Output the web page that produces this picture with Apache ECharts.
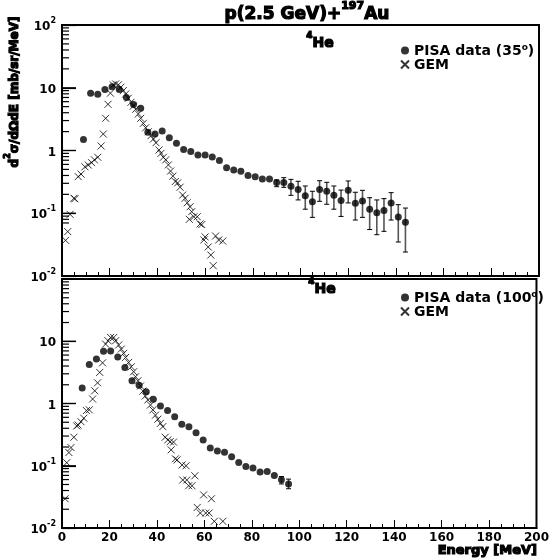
<!DOCTYPE html>
<html><head><meta charset="utf-8">
<script src="https://cdn.jsdelivr.net/npm/echarts@6/dist/echarts.min.js"></script>
<style>html,body{margin:0;padding:0;background:#fff}#c{width:552px;height:560px}</style>
</head><body><div id="c"></div>
<script>
const pisa35Energy = [9,12,15,18,21,24,27,30,33,36,39,42,45,48,51,54,57,60,63,66,69,72,75,78,81,84,87,90,93,96,99,102,105,108,111,114,117,120,123,126,129,132,135,138,141,144];
const pisa35Value  = [1.5,8.2,7.9,9.4,10.4,9.4,7.0,5.4,4.7,1.95,1.83,2.05,1.6,1.30,1.04,0.96,0.85,0.85,0.79,0.69,0.53,0.49,0.466,0.40,0.38,0.35,0.35,0.31,0.31,0.27,0.24,0.19,0.153,0.24,0.224,0.193,0.16,0.232,0.144,0.157,0.116,0.102,0.111,0.146,0.087,0.072];
const pisa35ErrLow = [null,null,null,null,null,null,null,null,null,null,null,null,null,null,null,null,null,null,null,null,null,null,null,null,null,null,null,0.265,0.259,0.193,0.163,0.116,0.086,0.155,0.139,0.116,0.089,0.146,0.078,0.086,0.055,0.0455,0.0515,0.078,0.0348,0.0241];
const pisa35ErrHigh= [null,null,null,null,null,null,null,null,null,null,null,null,null,null,null,null,null,null,null,null,null,null,null,null,null,null,null,0.339,0.369,0.347,0.323,0.272,0.224,0.33,0.311,0.272,0.234,0.327,0.216,0.232,0.177,0.163,0.171,0.213,0.137,0.121];
const gem35Energy = [1.5,2.4,3.4,5.0,5.4,6.8,8.0,9.6,11.0,12.4,13.6,15.0,16.4,17.3,18.3,19.3,20.3,21.5,22.5,23.6,24.7,25.7,26.7,27.8,28.9,29.9,30.9,32.0,33.0,34.1,35.1,36.2,37.3,38.3,39.4,40.7,41.5,42.5,43.5,44.6,45.5,46.5,47.5,48.5,49.5,50.6,51.6,52.5,53.4,53.7,54.4,55.3,56.7,57.9,58.6,59.5,60.0,61.3,62.4,63.4,64.4,65.7,67.4];
const gem35Value  = [0.037,0.051,0.096,0.173,0.170,0.383,0.42,0.55,0.587,0.64,0.71,0.78,1.18,1.83,3.26,5.45,8.2,11.1,11.5,11.1,10.2,9.0,7.94,6.8,5.86,5.1,4.54,3.82,3.26,2.71,2.3,1.99,1.72,1.52,1.33,1.02,0.90,0.78,0.71,0.59,0.47,0.39,0.32,0.305,0.26,0.195,0.173,0.147,0.080,0.127,0.106,0.088,0.088,0.0675,0.066,0.0375,0.042,0.029,0.0216,0.0146,0.0434,0.0375,0.036];
const pisa100Energy = [8.5,11.5,14.5,17.5,20.5,23.5,26.5,29.5,32.5,35.5,38.5,41.5,44.5,47.5,50.5,53.5,56.5,59.5,62.5,65.5,68.5,71.5,74.5,77.5,80.5,83.5,86.5,89.5,92.5,95.5];
const pisa100Value  = [1.77,4.25,5.17,6.93,7.0,5.56,3.8,2.32,1.96,1.55,1.17,0.91,0.77,0.615,0.464,0.425,0.34,0.26,0.193,0.173,0.165,0.14,0.113,0.097,0.0916,0.079,0.0807,0.0697,0.0594,0.051];
const pisa100ErrLow = [null,null,null,null,null,null,null,null,null,null,null,null,null,null,null,null,null,null,null,null,null,null,null,null,null,null,null,null,0.051,0.0427];
const pisa100ErrHigh= [null,null,null,null,null,null,null,null,null,null,null,null,null,null,null,null,null,null,null,null,null,null,null,null,null,null,null,null,0.067,0.061];
const gem100Energy = [1.3,2.0,2.9,3.8,5.0,6.2,6.8,8.0,9.2,10.3,11.5,12.9,13.8,15.0,15.9,17.1,18.4,19.4,20.5,21.8,22.6,23.9,25.0,26.0,26.8,28.1,29.2,30.2,31.0,32.0,33.1,34.1,35.1,36.2,37.3,38.3,39.4,40.4,41.5,42.5,43.5,44.6,45.6,46.0,47.0,47.8,48.5,50.6,52.3,50.9,52.6,53.4,54.8,56.0,57.0,58.3,59.7,60.6,62.0,63.0,64.2,67.8];
const gem100Value  = [0.0295,0.112,0.163,0.196,0.287,0.436,0.45,0.51,0.58,0.77,0.79,1.18,1.6,2.15,3.16,4.5,9.0,10.2,11.5,11.5,10.2,8.7,7.5,6.4,5.5,4.57,3.89,3.24,2.69,2.32,1.91,1.58,1.32,1.14,0.946,0.79,0.65,0.56,0.48,0.425,0.287,0.26,0.244,0.18,0.24,0.129,0.124,0.103,0.1,0.059,0.059,0.0477,0.0477,0.069,0.0214,0.0174,0.034,0.0174,0.0174,0.0295,0.0128,0.0128];
const xMin = 0, xMax = 200, xStep = 20, yMin = 0.01, yMax = 100;
const legendText = {PISA35:'{a|PISA data (35}{s|o}{a|)}', GEM35:'{a|GEM}', PISA100:'{a|PISA data (100}{s|o}{a|)}', GEM100:'{a|GEM}'};

const F = '"DejaVu Sans", "Liberation Sans", sans-serif';
const CROSS = 'path://M0,0L10,10M10,0L0,10';
const zip = (a, b) => a.map((v, i) => [v, b[i]]);
const errData = (e, lo, hi) => e.map((v, i) => [v, lo[i], hi[i]]).filter(d => d[1] != null);
const labRich = {b:{fontFamily:F,fontWeight:'bold',fontSize:12,color:'#000',lineHeight:16,verticalAlign:'bottom'}, s:{fontFamily:F,fontWeight:'bold',fontSize:8,color:'#000',lineHeight:6,verticalAlign:'top'}};
function yLabel(v){const e=Math.round(Math.log10(v)); if(e===0)return '{b|1}'; if(e===1)return '{b|10}'; return '{b|10}{s|'+e+'}';}
function xAxisCfg(gi, show){return {type:'value',gridIndex:gi,min:xMin,max:xMax,interval:xStep,axisLine:{show:true,lineStyle:{color:'#000',width:2}},axisTick:{show:true,inside:true,length:8,lineStyle:{color:'#000',width:1}},minorTick:{show:true,splitNumber:4,length:4,lineStyle:{color:'#000',width:1}},splitLine:{show:false},axisLabel:{show:show,margin:4,fontFamily:F,fontWeight:'bold',fontSize:12,color:'#000'}};}
function yAxisCfg(gi, showMax){return {type:'log',logBase:10,gridIndex:gi,min:yMin,max:yMax,axisLine:{show:true,lineStyle:{color:'#000',width:2}},axisTick:{show:true,inside:true,length:14,lineStyle:{color:'#000',width:1.2}},splitLine:{show:false},axisLabel:{showMaxLabel:showMax,margin:6,formatter:yLabel,rich:labRich}};}
function errBars(gi, data){return {type:'custom',xAxisIndex:gi,yAxisIndex:gi,silent:true,z:2,data:data,renderItem:(p,api)=>{const a=api.coord([api.value(0),api.value(1)]),b=api.coord([api.value(0),api.value(2)]),w=2.5;return {type:'group',children:[{type:'line',shape:{x1:a[0],y1:a[1],x2:b[0],y2:b[1]},style:{stroke:'#555',lineWidth:1.6}},{type:'line',shape:{x1:a[0]-w,y1:a[1],x2:a[0]+w,y2:a[1]},style:{stroke:'#000',lineWidth:1}},{type:'line',shape:{x1:b[0]-w,y1:b[1],x2:b[0]+w,y2:b[1]},style:{stroke:'#000',lineWidth:1}}]};}};}
const dotStyle={color:'#000'}, crossStyle={color:'rgba(0,0,0,0)',borderColor:'#000',borderWidth:1};
const legRich={a:{fontFamily:F,fontWeight:'bold',fontSize:14,color:'#000',lineHeight:15,verticalAlign:'bottom'},s:{fontFamily:F,fontWeight:'bold',fontSize:9,color:'#000',lineHeight:7,verticalAlign:'top'}};
function legendCfg(top,n){return {orient:'vertical',left:400,top:top,itemWidth:8,itemHeight:8,itemGap:0,padding:0,selectedMode:false,data:[{name:n[0],icon:'circle'},{name:n[1],icon:CROSS}],formatter:x=>legendText[x],textStyle:{rich:legRich}};}
const supRich=(s)=>({a:{fontFamily:F,fontWeight:'bold',fontSize:s,fill:'#000',lineHeight:s+5,verticalAlign:'bottom'},s:{fontFamily:F,fontWeight:'bold',fontSize:Math.round(s*0.65),fill:'#000',lineHeight:Math.round(s*0.45),verticalAlign:'top'}});

const chart = echarts.init(document.getElementById('c'));
chart.setOption({
  animation:false, backgroundColor:'#fff',
  grid:[{left:62,right:13,top:25,height:251,show:true,borderColor:'#000',borderWidth:2},{left:62,right:13,top:279,height:249,show:true,borderColor:'#000',borderWidth:2}],
  xAxis:[xAxisCfg(0,false),xAxisCfg(1,true)], yAxis:[yAxisCfg(0,true),yAxisCfg(1,false)],
  legend:[legendCfg(43,['PISA35','GEM35']),legendCfg(290,['PISA100','GEM100'])],
  series:[
    errBars(0,errData(pisa35Energy,pisa35ErrLow,pisa35ErrHigh)),
    {name:'PISA35',type:'scatter',xAxisIndex:0,yAxisIndex:0,symbol:'circle',symbolSize:7,itemStyle:dotStyle,z:3,data:zip(pisa35Energy,pisa35Value)},
    {name:'GEM35',type:'scatter',xAxisIndex:0,yAxisIndex:0,symbol:CROSS,symbolSize:7,itemStyle:crossStyle,z:4,data:zip(gem35Energy,gem35Value)},
    errBars(1,errData(pisa100Energy,pisa100ErrLow,pisa100ErrHigh)),
    {name:'PISA100',type:'scatter',xAxisIndex:1,yAxisIndex:1,symbol:'circle',symbolSize:7,itemStyle:dotStyle,z:3,data:zip(pisa100Energy,pisa100Value)},
    {name:'GEM100',type:'scatter',xAxisIndex:1,yAxisIndex:1,symbol:CROSS,symbolSize:7,itemStyle:crossStyle,z:4,data:zip(gem100Energy,gem100Value)}
  ],
  graphic:[
    {id:'title',type:'text',x:307,y:12,style:{text:'{a|p(2.5 GeV)+}{s|197}{a|Au}',rich:supRich(17),align:'center',verticalAlign:'middle'}},
    {id:'he1',type:'text',x:320,y:41,style:{text:'{s|4}{a|He}',rich:supRich(14),align:'center',verticalAlign:'middle'}},
    {id:'he2',type:'text',x:322,y:287,style:{text:'{s|4}{a|He}',rich:supRich(14),align:'center',verticalAlign:'middle'}},
    {id:'ytitle',type:'text',x:12,y:92,rotation:Math.PI/2,style:{text:'{a|d}{s|2}{a|σ/dΩdE [mb/sr/MeV]}',rich:supRich(12),align:'center',verticalAlign:'middle'}},
    {id:'xtitle',type:'text',x:537,y:551,style:{text:'Energy [MeV]',fontFamily:F,fontWeight:'bold',fontSize:13,fill:'#000',align:'right',verticalAlign:'middle'}}
  ]
});
const tickEls = [];
[0,1].forEach(gi => { for (let e=-2;e<2;e++) for (let k=1;k<=9;k++) { if (k===1&&e===-2) continue;
  const p = chart.convertToPixel({xAxisIndex:gi,yAxisIndex:gi},[xMin,k*Math.pow(10,e)]);
  if (!p||isNaN(p[1])) continue; const len = k===1?14:7;
  tickEls.push({type:'line',silent:true,shape:{x1:p[0],y1:p[1],x2:p[0]+len,y2:p[1]},style:{stroke:'#000',lineWidth:1.2}}); }});
chart.setOption({graphic:[{id:'logTicks',type:'group',z:100,children:tickEls}]});
</script>
</body></html>
